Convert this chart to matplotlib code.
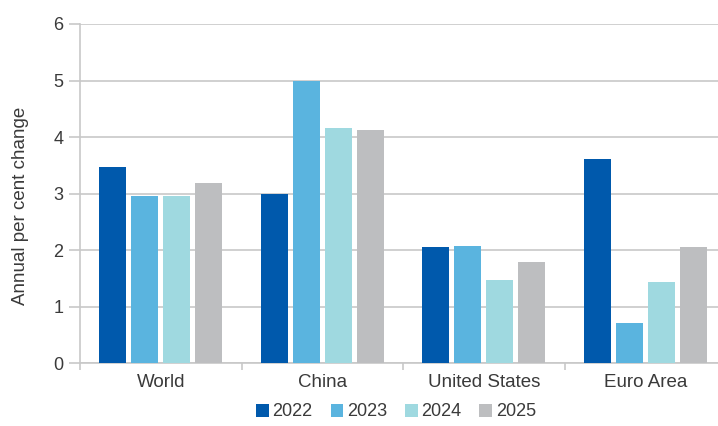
import matplotlib.pyplot as plt
import numpy as np

# Annual per cent change by region and year
regions = ["World", "China", "United States", "Euro Area"]
years = ["2022", "2023", "2024", "2025"]
vals_2022 = [3.48, 3.0, 2.05, 3.61]
vals_2023 = [2.96, 5.0, 2.08, 0.71]
vals_2024 = [2.95, 4.16, 1.47, 1.44]
vals_2025 = [3.19, 4.13, 1.80, 2.05]
colors = ["#0059AC", "#5AB4DF", "#9FD9E0", "#BDBEC0"]

plt.rcParams['font.family'] = ['Liberation Sans', 'DejaVu Sans']
txt = '#3a3a3a'
grid_c = '#c8c8c8'

fig = plt.figure(figsize=(7.18, 4.26), dpi=100)
ax = fig.add_axes([80 / 718, 62.7 / 426, 638 / 718, 339.3 / 426])

x = np.arange(len(regions))
step = 0.198
width = 0.167
series = [vals_2022, vals_2023, vals_2024, vals_2025]
for i, (yr, vals) in enumerate(zip(years, series)):
    ax.bar(x + (i - 1.5) * step, vals, width, color=colors[i], label=yr, zorder=3)

ax.set_ylim(0, 6)
ax.set_xlim(-0.5, 3.45)
ax.set_yticks(range(0, 7))
ax.yaxis.grid(True, color=grid_c, linewidth=1.2, zorder=0)
ax.tick_params(axis='y', length=8, color=grid_c, width=1.2, labelsize=13, labelcolor=txt, pad=4)

# category labels centred, separator ticks between groups
ax.set_xticks(x)
ax.set_xticklabels(regions, fontsize=13.5, color=txt)
ax.tick_params(axis='x', length=0, pad=8)
ax.set_xticks(np.arange(-0.5, 3.5, 1), minor=True)
ax.tick_params(axis='x', which='minor', length=5, color=grid_c, width=1.2)

for s in ['top', 'right']:
    ax.spines[s].set_visible(False)
ax.spines['left'].set_color(grid_c)
ax.spines['left'].set_linewidth(1.2)
ax.spines['bottom'].set_color(grid_c)
ax.spines['bottom'].set_linewidth(1.2)

ax.set_ylabel("Annual per cent change", fontsize=13.5, color=txt)
ax.yaxis.set_label_coords(-0.08, 0.465)

fig.legend(loc='center', bbox_to_anchor=(396 / 718, 14 / 426), ncol=4, frameon=False,
           fontsize=13, handlelength=0.7, handleheight=0.7, handletextpad=0.2,
           columnspacing=1.0, labelcolor=txt)

fig.savefig("out.png", dpi=100)
